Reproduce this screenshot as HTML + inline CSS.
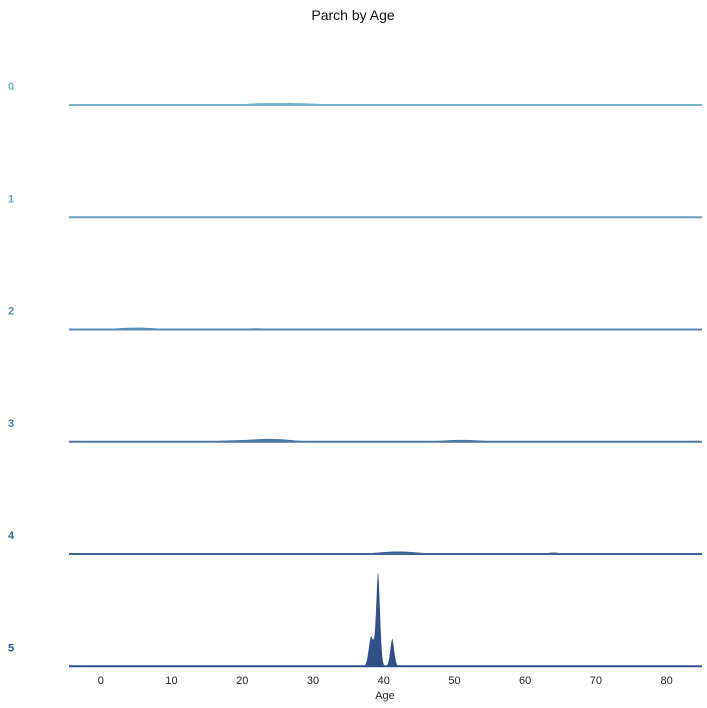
<!DOCTYPE html>
<html><head><meta charset="utf-8"><style>
html,body{margin:0;padding:0;background:#fff;}
svg{display:block;font-family:"Liberation Sans",Arial,sans-serif;}
</style></head><body>
<svg id="chart" width="707" height="708" viewBox="0 0 707 708">
<text x="353" y="20" text-anchor="middle" font-size="14" fill="#111">Parch by Age</text>
<g id="rows"></g>
<g id="xaxis"></g>
<text x="385" y="699" text-anchor="middle" font-size="11" fill="#222">Age</text>
</svg>
<script>
const categories = ["0","1","2","3","4","5"];
const colors = ["#78b0c9","#6a9fc1","#5a8ab3","#4d76a3","#3f6393","#30508a"];
const xTicks = [0,10,20,30,40,50,60,70,80];
// density peaks per row: centers (age), heights (density units), widths (age)
const centers = [[27,22,36],[3,8],[5,22,33],[24,18,51],[31,42,64],[38.2,39.2,41.2]];
const heights = [[2.2,1,0.6],[0.8,0.5],[2.2,1.5,1],[3.2,1.2,2.2],[1,2.8,1.8],[30,95,28]];
const widths  = [[4,2,2],[2,2],[3,3,3],[3,2,3],[1.2,3,1],[0.35,0.3,0.3]];

const X0=-4.5, X1=85, PL=69, PR=702;
const xs = v => PL + (v - X0) * (PR - PL) / (X1 - X0);
const base = i => 105 + i * 112.25;
const ys = (i, d) => base(i) - d;
const NS="http://www.w3.org/2000/svg";
const rows=document.getElementById('rows');
categories.forEach((c,i)=>{
  const g=document.createElementNS(NS,'g');
  
  
  let pts=[];
  for(let a=X0;a<=X1;a+=0.05){
    let d=0;
    centers[i].forEach((m,k)=>{const z=(a-m)/widths[i][k];d+=heights[i][k]*Math.exp(-0.5*z*z);});
    pts.push(xs(a).toFixed(2)+','+ys(i,d).toFixed(2));
  }
  const poly=document.createElementNS(NS,'polygon');
  poly.setAttribute('points', xs(X0)+','+base(i)+' '+pts.join(' ')+' '+xs(X1)+','+base(i));
  poly.setAttribute('fill', colors[i]);
  poly.setAttribute('stroke', '#fff');
  poly.setAttribute('stroke-width', '0.6');
  
  
  g.appendChild(poly);
  const ln=document.createElementNS(NS,'line');
  ln.setAttribute('x1',PL);ln.setAttribute('x2',PR);
  ln.setAttribute('y1',base(i));ln.setAttribute('y2',base(i));
  ln.setAttribute('stroke',colors[i]);ln.setAttribute('stroke-width','2');
  
  
  g.appendChild(ln);
  const t=document.createElementNS(NS,'text');
  t.setAttribute('x',8);t.setAttribute('y',base(i)-15);
  t.setAttribute('font-size','11');t.setAttribute('font-weight','bold');
  t.setAttribute('fill',colors[i]);
  t.textContent=c;
  
  
  g.appendChild(t);
  rows.appendChild(g);
});
const xa=document.getElementById('xaxis');
xTicks.forEach(v=>{
  const t=document.createElementNS(NS,'text');
  t.setAttribute('x',xs(v));t.setAttribute('y',684);
  t.setAttribute('text-anchor','middle');t.setAttribute('font-size','11');t.setAttribute('fill','#222');
  t.textContent=v;
  
  
  xa.appendChild(t);
});
</script>
</body></html>
